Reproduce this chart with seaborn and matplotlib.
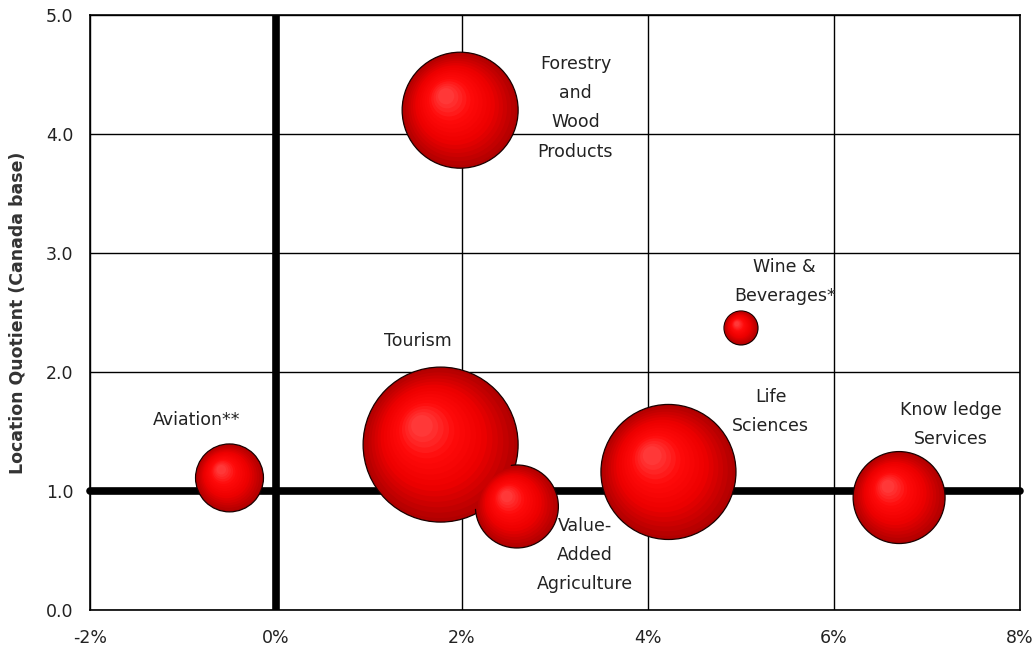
import numpy as np
import pandas as pd
import matplotlib
matplotlib.use("Agg")
import matplotlib.pyplot as plt
from matplotlib.path import Path
import seaborn as sns

# ---- data ----
industries = ["Aviation**", "Tourism", "Value-Added Agriculture", "Life Sciences",
              "Wine & Beverages*", "Knowledge Services", "Forestry and Wood Products"]
growth_pct = [-0.5, 1.77, 2.59, 4.22, 5.0, 6.70, 1.98]          # x (employment growth, %)
location_quotient = [1.11, 1.39, 0.87, 1.16, 2.37, 0.945, 4.20]  # y
bubble_size = [19.2, 100.0, 28.7, 75.9, 4.8, 35.2, 56.0]         # relative bubble area

label_text = ["Aviation**", "Tourism", "Value-\nAdded\nAgriculture", "Life\nSciences",
              "Wine &\nBeverages*", "Know ledge\nServices", "Forestry\nand\nWood\nProducts"]
label_x = [-0.85, 1.53, 3.32, 5.32, 5.47, 7.26, 3.22]
label_y = [1.60, 2.26, 0.46, 1.67, 2.76, 1.56, 4.22]

x_ticks = [-2, 0, 2, 4, 6, 8]
y_ticks = [0.0, 1.0, 2.0, 3.0, 4.0, 5.0]
x_tick_labels = ["-2%", "0%", "2%", "4%", "6%", "8%"]
y_tick_labels = ["0.0", "1.0", "2.0", "3.0", "4.0", "5.0"]
y_label = "Location Quotient (Canada base)"

df = pd.DataFrame({"industry": industries, "growth": growth_pct,
                   "lq": location_quotient, "size": bubble_size})

# ---- figure ----
sns.set_theme(style="white")
plt.rcParams["font.family"] = ["DejaVu Sans"]

fig = plt.figure(figsize=(10.35, 6.52), dpi=100)
ax = fig.add_axes([90 / 1035, 42 / 652, 930 / 1035, 595 / 652])

ax.set_xlim(-2, 8)
ax.set_ylim(0, 5)
ax.set_xticks(x_ticks)
ax.set_xticklabels(x_tick_labels)
ax.set_yticks(y_ticks)
ax.set_yticklabels(y_tick_labels)
ax.tick_params(axis="both", length=0, labelsize=12.5, colors="#222222")
ax.tick_params(axis="x", pad=14)
ax.tick_params(axis="y", pad=12)
ax.grid(True, color="black", linewidth=1.0, zorder=0)
ax.set_axisbelow(True)
for sp in ax.spines.values():
    sp.set_color("black")
    sp.set_linewidth(1.2)

ax.axvline(0, color="black", linewidth=5.5, zorder=1, solid_capstyle="butt")
ax.axhline(1.0, color="black", linewidth=5.5, zorder=1, clip_on=False,
           solid_capstyle="round")

# ---- bubbles (shaded spheres) ----
SMAX = 12455  # points^2 for the largest bubble
size_norm = (0, max(bubble_size))

sns.scatterplot(data=df, x="growth", y="lq", size="size", sizes=(0, SMAX),
                size_norm=size_norm, color="#b00000", edgecolor="#1a0000",
                linewidth=0.9, legend=False, ax=ax, zorder=3)

def shade_marker(f):
    c = 0.28 * (1 - f)
    circ = Path.circle(center=(-c, c), radius=f)
    anchor = Path([(-1, -1), (1, 1)], [Path.MOVETO, Path.MOVETO])
    return Path.make_compound_path(anchor, circ)

dark = np.array([0.72, 0.0, 0.0])
mid = np.array([0.93, 0.0, 0.0])
bright = np.array([1.0, 0.04, 0.04])
light = np.array([1.0, 0.22, 0.22])
fs = np.linspace(0.96, 0.14, 16)
for i, f in enumerate(fs):
    t = i / (len(fs) - 1)
    if t < 0.35:
        col = dark + (mid - dark) * (t / 0.35)
    elif t < 0.7:
        col = mid + (bright - mid) * ((t - 0.35) / 0.35)
    else:
        col = bright + (light - bright) * ((t - 0.7) / 0.3)
    sns.scatterplot(data=df, x="growth", y="lq", size="size", sizes=(0, SMAX),
                    size_norm=size_norm, marker=shade_marker(f),
                    color=tuple(col), edgecolor="none", linewidth=0,
                    legend=False, ax=ax, zorder=4 + i * 0.01)

ax.set_xlabel("")
ax.set_ylabel(y_label, fontsize=12.5, fontweight="bold", color="#333333", labelpad=14)

# ---- labels ----
for tx, lx, ly in zip(label_text, label_x, label_y):
    ax.text(lx, ly, tx, ha="center", va="center", fontsize=12.5, color="#222222",
            linespacing=1.8, zorder=6)

fig.savefig("out.png", dpi=100)
